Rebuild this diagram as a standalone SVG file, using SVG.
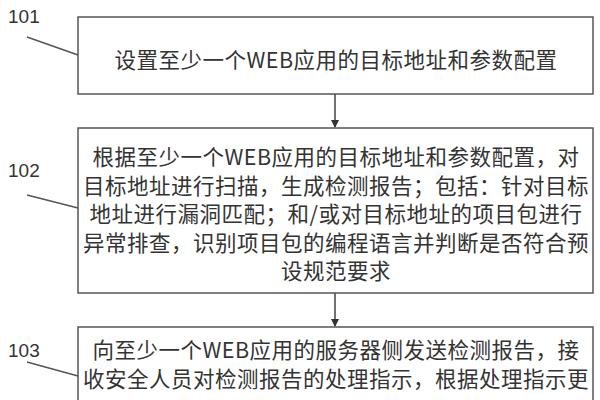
<svg xmlns="http://www.w3.org/2000/svg" width="600" height="400" viewBox="0 0 600 400">
<defs>
<style>
.box{fill:#fff;stroke:#555;stroke-width:1.5}
.t{font-family:"Noto Sans CJK SC","Noto Sans",sans-serif;font-size:21.5px;letter-spacing:0.5px;fill:#333;text-anchor:middle}
.lbl{font-family:"Liberation Sans","Noto Sans",sans-serif;font-size:19px;fill:#333}
.lead{stroke:#555;stroke-width:1.5;fill:none}
.conn{stroke:#444;stroke-width:1.5;fill:none}
</style>
<marker id="ah" markerWidth="8" markerHeight="8" refX="7" refY="4" orient="auto" markerUnits="userSpaceOnUse">
<path d="M0,0 L8,4 L0,8 Z" fill="#333"/>
</marker>
</defs>
<rect width="600" height="400" fill="#fff"/>
<g id="connectors">
<line class="conn" x1="335" y1="94" x2="335" y2="127" marker-end="url(#ah)"/>
<line class="conn" x1="335" y1="293" x2="335" y2="326" marker-end="url(#ah)"/>
</g>
<g id="node101">
<rect class="box" x="78" y="17" width="515" height="77"/>
<text class="t" x="336" y="68">设置至少一个WEB应用的目标地址和参数配置</text>
<text class="lbl" x="8" y="23">101</text>
<line class="lead" x1="27" y1="37" x2="78" y2="55"/>
</g>
<g id="node102">
<rect class="box" x="78" y="128" width="515" height="165"/>
<text class="t" x="336" y="165">根据至少一个WEB应用的目标地址和参数配置，对</text>
<text class="t" x="336" y="193.5">目标地址进行扫描，生成检测报告；包括：针对目标</text>
<text class="t" x="336" y="222">地址进行漏洞匹配；和/或对目标地址的项目包进行</text>
<text class="t" x="336" y="250.5">异常排查，识别项目包的编程语言并判断是否符合预</text>
<text class="t" x="336" y="279">设规范要求</text>
<text class="lbl" x="8" y="177">102</text>
<line class="lead" x1="27" y1="195" x2="78" y2="208"/>
</g>
<g id="node103">
<rect class="box" x="78" y="327" width="515" height="90"/>
<text class="t" x="336" y="358">向至少一个WEB应用的服务器侧发送检测报告，接</text>
<text class="t" x="336" y="386.5">收安全人员对检测报告的处理指示，根据处理指示更</text>
<text class="lbl" x="8" y="357">103</text>
<line class="lead" x1="27" y1="362" x2="78" y2="376"/>
</g>
</svg>
